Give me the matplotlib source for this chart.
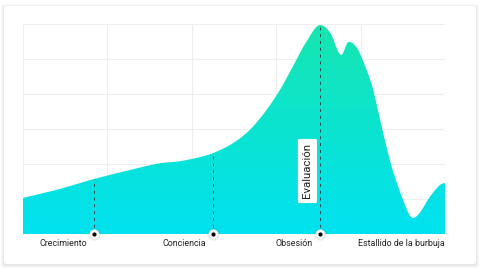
import numpy as np
import matplotlib
matplotlib.use("Agg")
import matplotlib.pyplot as plt
from matplotlib.patches import FancyBboxPatch, Polygon
from matplotlib.colors import LinearSegmentedColormap

# ---- data ----
curve_x = [0.00, 0.44, 0.84, 1.27, 1.62, 1.86, 2.10, 2.25, 2.45, 2.65, 2.84, 3.04,
           3.20, 3.36, 3.52, 3.64, 3.77, 3.86, 3.96, 4.08, 4.15, 4.27, 4.38,
           4.55, 4.62, 4.70, 4.82, 4.94, 5.00]
curve_y = [1.03, 1.29, 1.57, 1.83, 2.02, 2.08, 2.20, 2.31, 2.54, 2.89, 3.40, 4.10,
           4.80, 5.50, 5.97, 5.75, 5.12, 5.49, 5.30, 4.63, 4.11, 2.86, 1.83,
           0.69, 0.46, 0.60, 1.06, 1.40, 1.46]
stage_x = [0.84, 2.25, 3.52]
stage_labels = ["Crecimiento", "Conciencia", "Obsesión"]
end_label = "Estallido de la burbuja"
callout_text = "Evaluación"
callout_pos = (3.37, 1.8)
x_max, y_max = 5, 6


def smooth(x, y, xn):
    """cubic Hermite curve with central-difference tangents (flat at extrema)"""
    x = np.asarray(x, float); y = np.asarray(y, float)
    h = np.diff(x); d = np.diff(y) / h
    m = np.zeros_like(y)
    for k in range(1, len(x) - 1):
        if d[k - 1] * d[k] > 0:
            m[k] = (y[k + 1] - y[k - 1]) / (x[k + 1] - x[k - 1])
    m[0] = d[0]; m[-1] = d[-1]
    idx = np.clip(np.searchsorted(x, xn) - 1, 0, len(x) - 2)
    t = (xn - x[idx]) / h[idx]
    h00 = 2*t**3 - 3*t**2 + 1; h10 = t**3 - 2*t**2 + t
    h01 = -2*t**3 + 3*t**2; h11 = t**3 - t**2
    return h00*y[idx] + h10*h[idx]*m[idx] + h01*y[idx+1] + h11*h[idx]*m[idx+1]


W, H = 480, 268
fig = plt.figure(figsize=(W/100, H/100), dpi=100)
fig.patch.set_facecolor("white")

# card with soft shadow
for i, a in enumerate([0.025, 0.03, 0.04]):
    pad = (3 - i) / W
    fig.patches.append(FancyBboxPatch((4/W - pad, 3/H - pad*W/H), 472/W + 2*pad, 258/H + 2*pad*W/H,
                                      boxstyle="round,pad=0,rounding_size=0.01",
                                      transform=fig.transFigure, facecolor=(0, 0, 0, a),
                                      edgecolor="none", zorder=-3))
fig.patches.append(FancyBboxPatch((4/W, 4/H), 472/W, 258/H,
                                  boxstyle="round,pad=0,rounding_size=0.008",
                                  transform=fig.transFigure, facecolor="white",
                                  edgecolor="none", zorder=-2))

ax = fig.add_axes([23/W, (H-234)/H, 422/W, 210/H])
ax.set_zorder(5)
ax.set_xlim(0, x_max); ax.set_ylim(0, y_max)
ax.patch.set_alpha(0)
for s in ax.spines.values():
    s.set_visible(False)
ax.set_xticks([]); ax.set_yticks([])

for gx in range(0, x_max + 1):
    ax.axvline(gx, color="#eeeeee", lw=0.8, zorder=1)
for gy in range(0, y_max + 1):
    ax.axhline(gy, color="#eeeeee", lw=0.8, zorder=1)

xs = np.linspace(curve_x[0], curve_x[-1], 1000)
ys = smooth(curve_x, curve_y, xs)

cmap = LinearSegmentedColormap.from_list("g", ["#00e1f0", "#17e6b0"])
grad = np.linspace(0, 1, 256).reshape(-1, 1)
im = ax.imshow(grad, extent=[0, x_max, 0, y_max], origin="lower", aspect="auto",
               cmap=cmap, zorder=2)
poly = Polygon(np.column_stack([np.r_[xs, xs[-1], xs[0]], np.r_[ys, 0, 0]]),
               closed=True, facecolor="none", edgecolor="none")
ax.add_patch(poly)
im.set_clip_path(poly)

for sx in stage_x:
    top = smooth(curve_x, curve_y, np.array([sx]))[0]
    ax.plot([sx, sx], [0, top], color="#37474f", lw=0.7, dashes=(3, 4), zorder=3)
    ax.scatter([sx], [0], s=55, color="white", edgecolor=(0, 0, 0, 0.08), lw=1.5,
               zorder=5, clip_on=False)
    ax.scatter([sx], [0], s=4, color="black", zorder=6, clip_on=False)

font = "Roboto"
for sx, lab in zip(stage_x, stage_labels):
    ax.annotate(lab, (sx, 0), xytext=(-7, -9), textcoords="offset pixels",
                ha="right", va="center", fontsize=6.4, color="#222222", family=font)
ax.annotate(end_label, (x_max, 0), xytext=(0, -9), textcoords="offset pixels",
            ha="right", va="center", fontsize=6.4, color="#222222", family=font)

ax.text(callout_pos[0], callout_pos[1], callout_text, rotation=90, ha="center", va="center",
        fontsize=8.2, color="#222222", family=font, zorder=7,
        bbox=dict(boxstyle="round,pad=0.4,rounding_size=0.15", facecolor="white",
                  edgecolor="none"))

fig.savefig("out.png", dpi=100)
